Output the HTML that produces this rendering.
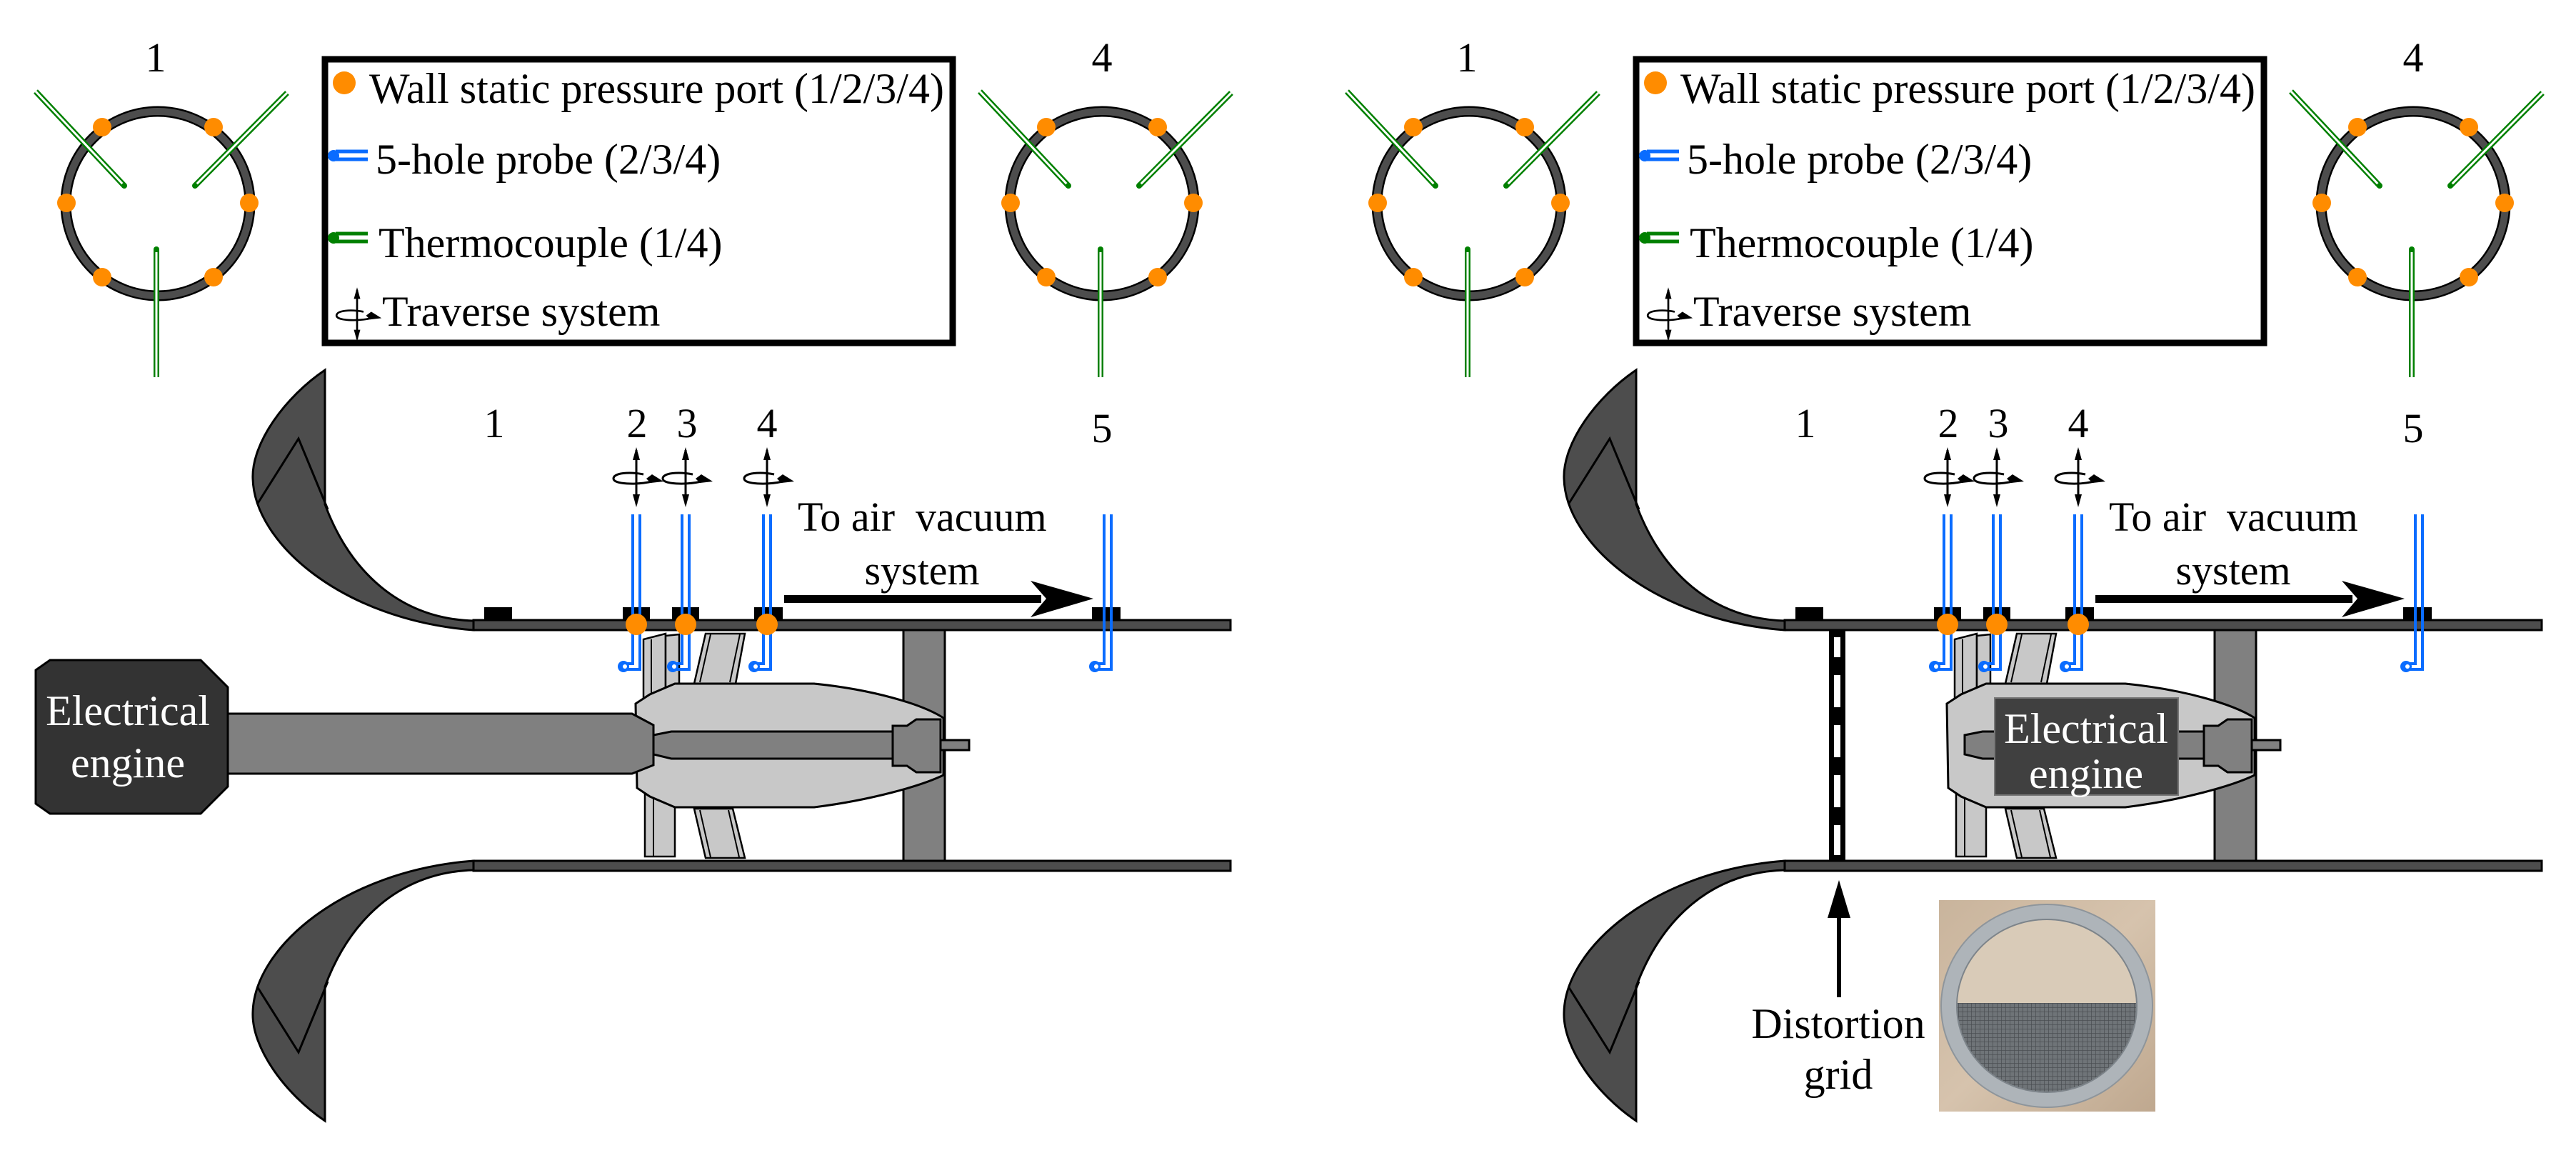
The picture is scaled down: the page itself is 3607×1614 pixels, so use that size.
<!DOCTYPE html>
<html><head><meta charset="utf-8"><style>
html,body{margin:0;padding:0;background:#fff;}
svg{display:block;}
svg text{font-family:"Liberation Serif","Tinos","Times New Roman","DejaVu Serif",serif !important;}
</style></head><body>
<svg width="3607" height="1614" viewBox="0 0 3607 1614" xmlns="http://www.w3.org/2000/svg" style="font-family:'Liberation Serif','DejaVu Serif',serif">
<defs>
  <g id="ring">
    <circle cx="0" cy="0" r="129" fill="none" stroke="#000" stroke-width="15"/>
    <circle cx="0" cy="0" r="129" fill="none" stroke="#4d4d4d" stroke-width="10"/>
    <g fill="#ff8c00">
      <circle cx="-78" cy="-107" r="13"/><circle cx="78" cy="-107" r="13"/>
      <circle cx="-128" cy="-1" r="13"/><circle cx="128" cy="-1" r="13"/>
      <circle cx="-78" cy="103" r="13"/><circle cx="78" cy="103" r="13"/>
    </g>
    <g stroke-linecap="butt">
      <path d="M-171,-157 L-47,-25" stroke="#008000" stroke-width="8"/>
      <path d="M-171,-157 L-47,-25" stroke="#fff" stroke-width="3"/>
      <path d="M181,-155 L52,-25" stroke="#008000" stroke-width="8"/>
      <path d="M181,-155 L52,-25" stroke="#fff" stroke-width="3"/>
      <path d="M-2,243 V64" stroke="#008000" stroke-width="8"/>
      <path d="M-2,243 V68" stroke="#fff" stroke-width="3"/>
    </g>
    <circle cx="-47" cy="-25" r="4" fill="#008000"/><circle cx="52" cy="-25" r="4" fill="#008000"/><circle cx="-2" cy="64" r="4" fill="#008000"/>
  </g>
  <g id="trav">
    <path d="M0,-38 V38" stroke="#000" stroke-width="3"/>
    <path d="M0,-42 L-5,-24 L5,-24 Z M0,42 L-5,24 L5,24 Z" fill="#000"/>
    <path d="M10,-4 C-10,-8 -32,-6 -32,2 C-32,10 0,11 22,6" fill="none" stroke="#000" stroke-width="3"/>
    <path d="M14,2 L22,-4 L38,6 L20,8 Z" fill="#000"/>
  </g>
  <g id="probe">
    <path d="M5,0 V217 H-16" fill="none" stroke="#0a6cff" stroke-width="4"/>
    <path d="M-5,0 V209 H-16" fill="none" stroke="#0a6cff" stroke-width="4"/>
    <circle cx="-18" cy="213" r="8" fill="#0a6cff"/>
    <circle cx="-16" cy="213" r="3" fill="#fff"/>
  </g>
  <g id="lip">
    <path d="M455,518 C400,555 352,620 354,670 C356,760 480,868 663,882 L663,869 C560,866 490,800 455,706 Z" fill="#4d4d4d" stroke="#000" stroke-width="3"/>
    <path d="M360,706 L418,614 L459,713" fill="none" stroke="#000" stroke-width="3"/>
  </g>
  <g id="common">
    <use href="#lip"/>
    <use href="#lip" transform="matrix(1,0,0,-1,0,2087)"/>
    <rect x="1265" y="882" width="58" height="323" fill="#808080" stroke="#000" stroke-width="3"/>
    <rect x="663" y="868" width="1060" height="14" fill="#4d4d4d" stroke="#000" stroke-width="3"/>
    <rect x="663" y="1205" width="1060" height="14" fill="#4d4d4d" stroke="#000" stroke-width="3"/>
    <g fill="#000">
      <rect x="678" y="850" width="39" height="18"/><rect x="872" y="850" width="38" height="18"/>
      <rect x="941" y="850" width="38" height="18"/><rect x="1056" y="850" width="40" height="18"/>
      <rect x="1529" y="850" width="40" height="18"/>
    </g>
    <g fill="#c8c8c8" stroke="#000" stroke-width="2.5">
      <path d="M901,895 L932,887 L932,975 L901,985 Z"/>
      <path d="M932,890 L951,888 L951,972 L932,975 Z"/>
      <path d="M972,957 L988,887 L1043,887 L1030,957 Z"/>
      <path d="M903,1110 L945,1120 L945,1199 L903,1199 Z"/>
      <path d="M972,1132 L1026,1132 L1043,1201 L988,1201 Z"/>
    </g>
    <path d="M980,955 L995,888 M1022,955 L1036,888 M980,1134 L995,1200 M1020,1134 L1035,1200 M912,895 V985 M915,1115 V1199" stroke="#000" stroke-width="2" fill="none"/>
    <path d="M890,985 L910,972 L945,957 H1140 C1220,965 1290,985 1321,1005 V1085 C1290,1100 1220,1120 1140,1130 H945 L910,1115 L892,1103 Z" fill="#c8c8c8" stroke="#000" stroke-width="3"/>
    <path d="M915,1029 L940,1024 H1250 V1062 H940 L915,1056 Z" fill="#808080" stroke="#000" stroke-width="3"/>
    <path d="M1250,1016 H1270 L1283,1007 H1317 V1081 H1283 L1270,1072 H1250 Z" fill="#808080" stroke="#000" stroke-width="3"/>
    <rect x="1317" y="1036" width="40" height="14" fill="#808080" stroke="#000" stroke-width="3"/>
    <use href="#probe" x="891" y="720"/>
    <use href="#probe" x="960" y="720"/>
    <use href="#probe" x="1074" y="720"/>
    <use href="#probe" x="1551" y="720"/>
    <g fill="#ff8c00">
      <circle cx="891" cy="874" r="15"/><circle cx="960" cy="874" r="15"/><circle cx="1074" cy="874" r="15"/>
    </g>
    <use href="#trav" x="891" y="668"/>
    <use href="#trav" x="960" y="668"/>
    <use href="#trav" x="1074" y="668"/>
    <rect x="1098" y="833" width="360" height="11" fill="#000"/>
    <path d="M1531,838 L1443,813 L1465,838 L1443,864 Z" fill="#000"/>
    <use href="#ring" x="221" y="285"/>
    <use href="#ring" x="1543" y="285"/>
    <rect x="455" y="83" width="879" height="397" fill="none" stroke="#000" stroke-width="9"/>
    <circle cx="482" cy="116" r="16" fill="#ff8c00"/>
    <path d="M470,212 H515 M470,223 H515" stroke="#0a6cff" stroke-width="5"/>
    <circle cx="467" cy="218" r="8" fill="#0a6cff"/>
    <path d="M470,327 H515 M470,338 H515" stroke="#008000" stroke-width="5"/>
    <circle cx="467" cy="333" r="8" fill="#008000"/>
    <g transform="translate(500,440) scale(0.9)"><use href="#trav"/></g>
  </g>
</defs>

<use href="#common"/>
<path d="M319,999 H885 L915,1015 V1071 L885,1083 H319 Z" fill="#808080" stroke="#000" stroke-width="3"/>
<path d="M70,924 H281 L319,962 V1101 L281,1139 H70 L50,1125 V938 Z" fill="#333" stroke="#000" stroke-width="3"/>
<g font-family="Liberation Serif" fill="#000" style="font-family:'Liberation Serif','DejaVu Serif',serif">
<text x="179" y="1015" font-size="60" text-anchor="middle" fill="#fff">Electrical</text>
<text x="179" y="1088" font-size="60" text-anchor="middle" fill="#fff">engine</text>
<text x="218" y="100" font-size="58" text-anchor="middle">1</text>
<text x="1543" y="100" font-size="58" text-anchor="middle">4</text>
<text x="517" y="144" font-size="60">Wall static pressure port (1/2/3/4)</text>
<text x="526" y="243" font-size="60">5-hole probe (2/3/4)</text>
<text x="530" y="360" font-size="60">Thermocouple (1/4)</text>
<text x="535" y="456" font-size="60">Traverse system</text>
<text x="692" y="612" font-size="58" text-anchor="middle">1</text>
<text x="892" y="612" font-size="58" text-anchor="middle">2</text>
<text x="962" y="612" font-size="58" text-anchor="middle">3</text>
<text x="1074" y="612" font-size="58" text-anchor="middle">4</text>
<text x="1543" y="619" font-size="58" text-anchor="middle">5</text>
<text x="1117" y="743" font-size="58" xml:space="preserve">To air  vacuum</text>
<text x="1291" y="818" font-size="58" text-anchor="middle">system</text>
</g>

<g transform="translate(1836,0)">
<use href="#common"/>
<rect x="957" y="977" width="257" height="136" fill="#404040" stroke="#777" stroke-width="2"/>
<rect x="725" y="882" width="23" height="323" fill="#000"/>
<g fill="#fff">
  <rect x="732" y="892" width="9" height="28"/><rect x="732" y="945" width="9" height="45"/>
  <rect x="732" y="1015" width="9" height="45"/><rect x="732" y="1085" width="9" height="45"/>
  <rect x="732" y="1155" width="9" height="42"/>
</g>
<rect x="736" y="1260" width="6" height="136" fill="#000"/>
<path d="M739,1232 L723,1285 L755,1285 Z" fill="#000"/>
<defs>
  <linearGradient id="wood" x1="0" y1="0" x2="1" y2="1">
    <stop offset="0" stop-color="#c9b49c"/><stop offset="0.5" stop-color="#d6c3ad"/><stop offset="1" stop-color="#bfa88f"/>
  </linearGradient>
  <clipPath id="inner"><ellipse cx="1030" cy="1408" rx="126" ry="121"/></clipPath>
  <pattern id="mesh" width="6" height="6" patternUnits="userSpaceOnUse">
    <rect width="6" height="6" fill="#6f7478"/>
    <path d="M0,0 H6 M0,0 V6" stroke="#4a4e52" stroke-width="1.5"/>
  </pattern>
</defs>
<rect x="879" y="1260" width="303" height="296" fill="url(#wood)"/>
<ellipse cx="1030" cy="1408" rx="126" ry="121" fill="#d9cbb8"/>
<rect x="890" y="1404" width="290" height="130" fill="url(#mesh)" clip-path="url(#inner)"/>
<ellipse cx="1030" cy="1408" rx="137" ry="131" fill="none" stroke="#aeb4b9" stroke-width="22"/>
<ellipse cx="1030" cy="1408" rx="148" ry="142" fill="none" stroke="#8e959b" stroke-width="2"/>
<ellipse cx="1030" cy="1408" rx="126" ry="121" fill="none" stroke="#7d848a" stroke-width="2"/>

<g font-family="Liberation Serif" fill="#000" style="font-family:'Liberation Serif','DejaVu Serif',serif">
<text x="1085" y="1040" font-size="60" text-anchor="middle" fill="#fff">Electrical</text>
<text x="1085" y="1103" font-size="60" text-anchor="middle" fill="#fff">engine</text>
<text x="738" y="1453" font-size="60" text-anchor="middle">Distortion</text>
<text x="738" y="1524" font-size="60" text-anchor="middle">grid</text>
<text x="218" y="100" font-size="58" text-anchor="middle">1</text>
<text x="1543" y="100" font-size="58" text-anchor="middle">4</text>
<text x="517" y="144" font-size="60">Wall static pressure port (1/2/3/4)</text>
<text x="526" y="243" font-size="60">5-hole probe (2/3/4)</text>
<text x="530" y="360" font-size="60">Thermocouple (1/4)</text>
<text x="535" y="456" font-size="60">Traverse system</text>
<text x="692" y="612" font-size="58" text-anchor="middle">1</text>
<text x="892" y="612" font-size="58" text-anchor="middle">2</text>
<text x="962" y="612" font-size="58" text-anchor="middle">3</text>
<text x="1074" y="612" font-size="58" text-anchor="middle">4</text>
<text x="1543" y="619" font-size="58" text-anchor="middle">5</text>
<text x="1117" y="743" font-size="58" xml:space="preserve">To air  vacuum</text>
<text x="1291" y="818" font-size="58" text-anchor="middle">system</text>
</g>
</g>
</svg>
</body></html>
